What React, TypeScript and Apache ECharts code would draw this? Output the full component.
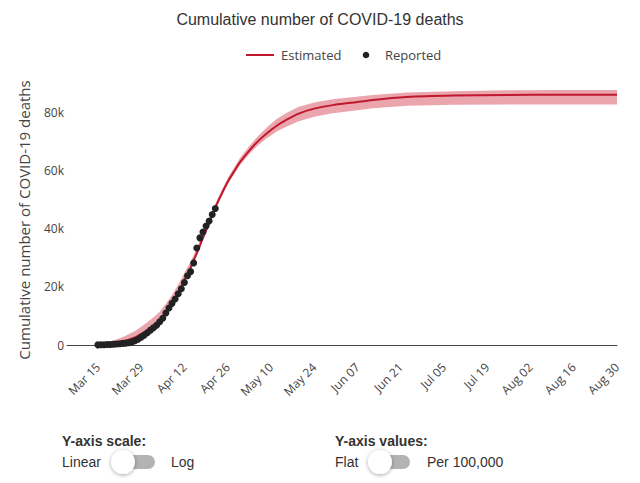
import React, { useEffect, useRef } from 'react';
import * as echarts from 'echarts';

// Day offsets are counted from 2020-03-15 (Mar 15 = 0)
const xTickDays = [0, 14, 28, 42, 56, 70, 84, 98, 112, 126, 140, 154, 168];
const xTickLabels = ['Mar 15', 'Mar 29', 'Apr 12', 'Apr 26', 'May 10', 'May 24', 'Jun 07', 'Jun 21', 'Jul 05', 'Jul 19', 'Aug 02', 'Aug 16', 'Aug 30'];
const yTickValues = [0, 20000, 40000, 60000, 80000];
const yTickLabels = ['0', '20k', '40k', '60k', '80k'];

const estDays = [0, 3, 6, 9, 12, 14, 16, 18, 20, 22, 24, 26, 28, 30, 32, 34, 36, 38, 40, 42, 44, 46, 49, 52, 55, 58, 61, 65, 70, 76, 82, 89, 100, 115, 132, 150, 168];
const estValues = [200, 400, 800, 1500, 2600, 3800, 5000, 6500, 8500, 11000, 14200, 18000, 22200, 26500, 31500, 36800, 41800, 47200, 51800, 56000, 59500, 62800, 66800, 70200, 73000, 75400, 77300, 79500, 81200, 82400, 83200, 84200, 85200, 85700, 85900, 86000, 86000];
const bandLower = [0, 100, 400, 1000, 2000, 3000, 4200, 5800, 7800, 10300, 13500, 17300, 21500, 25800, 30800, 36000, 41100, 46500, 51000, 55200, 58600, 61800, 65600, 68800, 71300, 73400, 75000, 76900, 78400, 79600, 80400, 81300, 82200, 82500, 82600, 82600, 82600];
const bandUpper = [500, 1000, 1900, 3200, 4800, 6300, 7800, 9500, 11400, 14200, 17200, 20800, 24800, 28600, 33200, 38200, 43200, 48500, 53000, 57300, 60800, 64200, 68400, 72000, 75100, 77700, 79700, 81800, 83300, 84400, 85100, 85900, 86700, 87200, 87500, 87600, 87600];

// Reported, daily from Mar 15 (day 0) to Apr 22 (day 38)
const reportedValues = [50, 70, 100, 150, 200, 250, 350, 450, 550, 650, 800, 1050, 1450, 2000, 2700, 3400, 4200, 5100, 5900, 6800, 8000, 9200, 11000, 12700, 14300, 15800, 17600, 19300, 21500, 23800, 25200, 28200, 33300, 36800, 38800, 40900, 42600, 44800, 46900];

const LINE_COLOR = '#c0182d';
const DOT_COLOR = '#222222';
const BAND_COLOR = 'rgba(205, 40, 60, 0.42)';
const AXIS_FONT = '"Open Sans", "DejaVu Sans", sans-serif';
const UI_FONT = '"Liberation Sans", Arial, sans-serif';

export default function App() {
  const ref = useRef<HTMLDivElement>(null);

  useEffect(() => {
    document.body.style.margin = '0';
    const chart = echarts.init(ref.current as HTMLDivElement, undefined, { renderer: 'svg' });

    const uiText = (text: string, x: number, y: number, bold = false) => ({
      type: 'text',
      x,
      y,
      style: {
        text,
        fontFamily: UI_FONT,
        fontSize: 14,
        fontWeight: bold ? 'bold' : 'normal',
        fill: '#333',
        verticalAlign: 'middle',
        align: 'left',
      },
    });

    const legendText = (text: string, x: number) => ({
      type: 'text',
      x,
      y: 55,
      style: { text, fontFamily: AXIS_FONT, fontSize: 13, fill: '#444', verticalAlign: 'middle', align: 'left' },
    });

    const knob = (cx: number, cy: number) => ({
      type: 'circle',
      shape: { cx, cy, r: 12 },
      style: { fill: '#ffffff', shadowBlur: 4, shadowColor: 'rgba(0,0,0,0.35)', shadowOffsetY: 1 },
    });

    const option: any = {
      animation: false,
      backgroundColor: '#ffffff',
      title: {
        text: 'Cumulative number of COVID-19 deaths',
        left: 'center',
        top: 11,
        padding: 0,
        textStyle: { fontFamily: UI_FONT, fontSize: 16, fontWeight: 'normal', color: '#333' },
      },
      grid: { left: 67, right: 23, top: 83, bottom: 138, containLabel: false, outerBoundsMode: 'none' },
      xAxis: {
        type: 'value',
        min: -10,
        max: 168,
        splitLine: { show: false },
        axisLine: { show: true, onZero: false, lineStyle: { color: '#444', width: 1 } },
        axisTick: { show: false },
        axisLabel: {
          customValues: xTickDays,
          formatter: (v: number) => {
            const i = xTickDays.indexOf(Math.round(v));
            return i >= 0 ? xTickLabels[i] : '';
          },
          rotate: 45,
          margin: 20,
          fontFamily: AXIS_FONT,
          fontSize: 12,
          color: '#444',
        },
      },
      yAxis: {
        type: 'value',
        min: 0,
        max: 90000,
        interval: 20000,
        splitLine: { show: false },
        axisLine: { show: false },
        axisTick: { show: false },
        axisLabel: {
          customValues: yTickValues,
          margin: 3,
          formatter: (v: number) => {
            const i = yTickValues.indexOf(v);
            return i >= 0 ? yTickLabels[i] : '';
          },
          fontFamily: AXIS_FONT,
          fontSize: 12,
          color: '#444',
        },
      },
      series: [
        {
          type: 'custom',
          name: 'band',
          silent: true,
          z: 1,
          clip: false,
          encode: { x: 0, y: [1, 2] },
          data: estDays.map((d, i) => [d, bandLower[i], bandUpper[i]]),
          renderItem: (params: any, api: any) => {
            if (params.dataIndex !== 0) return null;
            const pts: number[][] = [];
            for (let i = 0; i < estDays.length; i++) pts.push(api.coord([estDays[i], bandUpper[i]]));
            for (let i = estDays.length - 1; i >= 0; i--) pts.push(api.coord([estDays[i], bandLower[i]]));
            return {
              type: 'polygon',
              shape: { points: pts },
              style: { fill: BAND_COLOR, stroke: null },
            };
          },
        },
        {
          type: 'line',
          name: 'Estimated',
          z: 3,
          symbol: 'none',
          smooth: 0.3,
          data: estDays.map((d, i) => [d, estValues[i]]),
          lineStyle: { color: LINE_COLOR, width: 2 },
          itemStyle: { color: LINE_COLOR },
        },
        {
          type: 'scatter',
          name: 'Reported',
          z: 4,
          symbol: 'circle',
          symbolSize: 7,
          data: reportedValues.map((v, i) => [i, v]),
          itemStyle: { color: DOT_COLOR, opacity: 1 },
        },
      ],
      graphic: [
        // y-axis title
        {
          type: 'text',
          x: 24,
          y: 220,
          rotation: Math.PI / 2,
          style: {
            text: 'Cumulative number of COVID-19 deaths',
            fontFamily: AXIS_FONT,
            fontSize: 15,
            fill: '#444',
            align: 'center',
            verticalAlign: 'middle',
          },
        },
        // legend
        { type: 'line', shape: { x1: 246, y1: 55, x2: 274, y2: 55 }, style: { stroke: LINE_COLOR, lineWidth: 2 } },
        legendText('Estimated', 281),
        { type: 'circle', shape: { cx: 366, cy: 55, r: 3.3 }, style: { fill: DOT_COLOR } },
        legendText('Reported', 385),
        // controls
        uiText('Y-axis scale:', 62, 441, true),
        uiText('Linear', 62, 462),
        { type: 'rect', shape: { x: 115, y: 455, width: 40, height: 14, r: 7 }, style: { fill: '#b3b3b3' } },
        knob(123, 462),
        uiText('Log', 171, 462),
        uiText('Y-axis values:', 335, 441, true),
        uiText('Flat', 335, 462),
        { type: 'rect', shape: { x: 372, y: 455, width: 38, height: 14, r: 7 }, style: { fill: '#b3b3b3' } },
        knob(380, 462),
        uiText('Per 100,000', 427, 462),
      ],
    };

    chart.setOption(option);
    return () => chart.dispose();
  }, []);

  return <div ref={ref} style={{ position: 'absolute', left: 0, top: 0, width: 640, height: 483 }} />;
}
